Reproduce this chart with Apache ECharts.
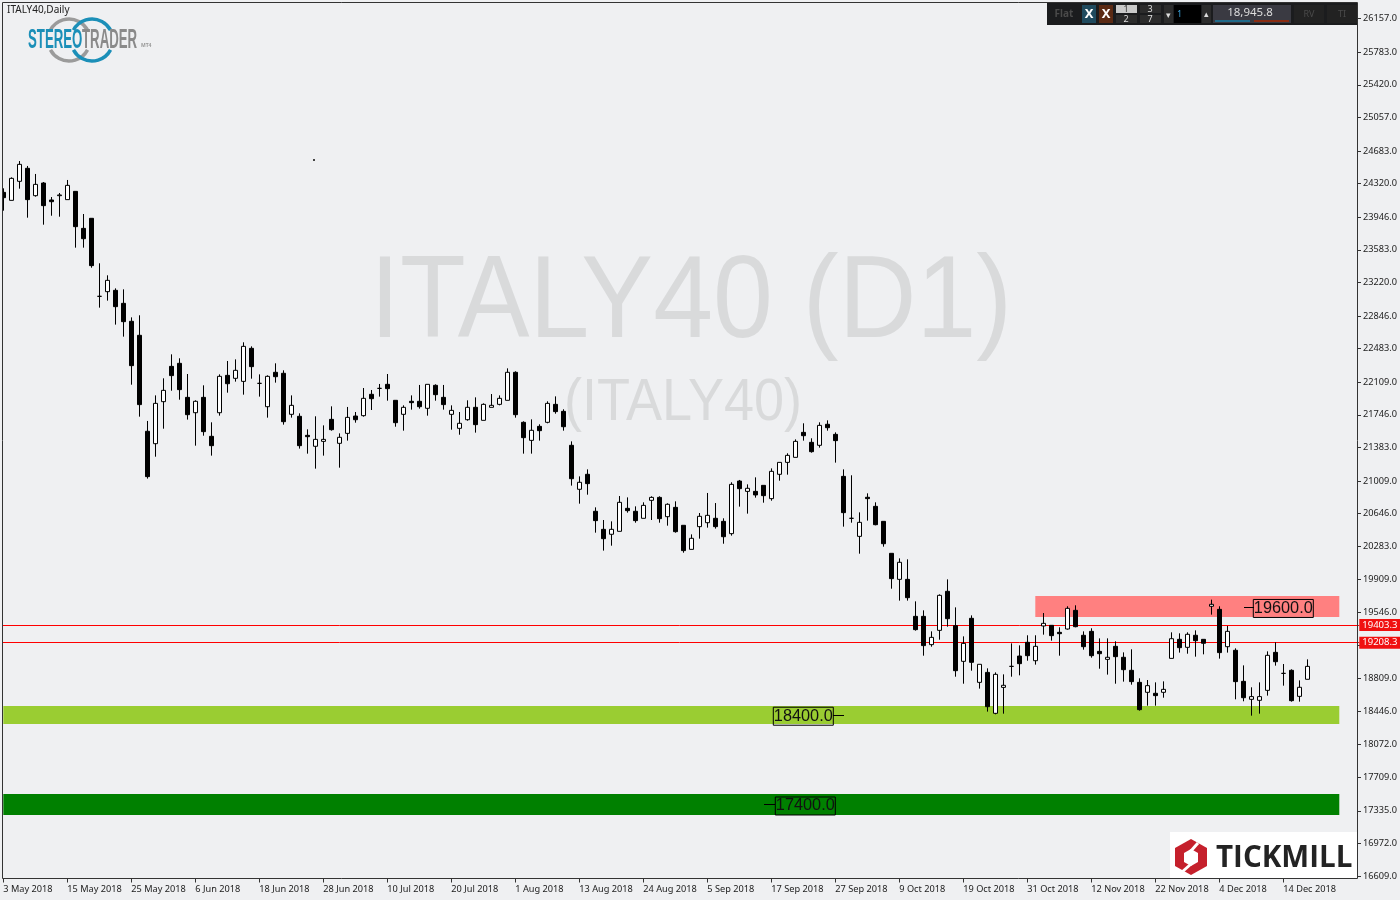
<!DOCTYPE html>
<html><head><meta charset="utf-8">
<style>html,body{margin:0;padding:0;background:#eff0f2}#c{width:1400px;height:900px}</style>
<script src="https://cdn.jsdelivr.net/npm/echarts@6/dist/echarts.min.js"></script>
</head><body><div id="c"></div>
<script>
// [open, close, low, high]
const candles = [
[24223,24164,24019,24268],[24134,24379,24134,24390],[24346,24535,24264,24572],[24491,24142,23941,24517],
[24186,24312,24175,24428],[24327,24075,23863,24338],[24138,24119,23963,24171],[24186,24194,23952,24216],
[24142,24301,24142,24361],[24234,23841,23607,24234],[23822,23707,23607,23982],[23934,23407,23384,23934],
[23065,23065,22939,23433],[23117,23243,23017,23299],[23132,22950,22750,23154],[22987,22783,22616,23143],
[22787,22293,22081,22831],[22631,21859,21725,22854],[21562,21057,21035,21677],[21424,21873,21279,21962],
[21892,22018,21591,22152],[22285,22182,22014,22419],[22319,22026,21914,22375],[21940,21747,21692,22200],
[21769,21896,21402,21907],[21940,21558,21513,22074],[21506,21402,21291,21662],[21769,22174,21736,22196],
[22185,22092,21992,22345],[22152,22241,22115,22363],[22118,22508,21970,22553],[22486,22282,22148,22508],
[22096,22096,21948,22196],[21836,22174,21714,22185],[22219,22170,22104,22319],[22208,21669,21636,22241],
[21751,21851,21714,21962],[21729,21402,21369,21762],[21517,21502,21313,21584],[21395,21472,21146,21729],
[21450,21472,21291,21628],[21695,21580,21569,21840],[21428,21495,21157,21539],[21539,21717,21458,21833],
[21732,21691,21658,21777],[21736,21929,21725,22044],[21974,21925,21799,22022],[22040,22040,21948,22089],
[22085,22037,21903,22200],[21907,21658,21613,21907],[21751,21829,21569,21851],[21896,21881,21803,21962],
[21896,21836,21814,22078],[21818,22085,21736,22085],[22074,21970,21903,22085],[21940,21859,21803,22078],
[21751,21795,21580,21851],[21595,21651,21524,21777],[21691,21829,21680,21907],[21829,21636,21547,21940],
[21684,21862,21684,21873],[21829,21851,21829,21977],[21862,21929,21851,21962],[21907,22219,21907,22263],
[22219,21747,21714,22230],[21662,21491,21313,21673],[21461,21573,21313,21695],[21617,21569,21458,21640],
[21662,21873,21651,21896],[21862,21781,21758,21951],[21784,21613,21569,21807],[21406,21034,20957,21450],
[20916,20994,20756,21060],[21083,20979,20856,21138],[20671,20567,20433,20715],[20470,20366,20233,20574],
[20415,20470,20288,20559],[20448,20771,20448,20841],[20704,20678,20656,20826],[20671,20567,20544,20726],
[20593,20737,20593,20771],[20793,20826,20574,20838],[20826,20589,20544,20838],[20611,20749,20511,20760],
[20715,20444,20433,20782],[20515,20233,20210,20515],[20247,20370,20247,20414],[20500,20615,20366,20652],
[20544,20626,20489,20875],[20593,20500,20478,20763],[20559,20388,20310,20593],[20422,20971,20400,20994],
[21008,20923,20723,21020],[20893,20927,20645,20971],[20893,20853,20823,21049],[20960,20845,20767,20960],
[20812,21116,20789,21149],[21083,21216,21012,21216],[21216,21294,21079,21317],[21272,21450,21272,21472],
[21550,21513,21458,21651],[21439,21335,21324,21484],[21406,21628,21380,21662],[21640,21602,21569,21684],
[21528,21458,21213,21550],[21060,20656,20500,21138],[20593,20593,20544,21072],[20392,20548,20199,20659],
[20827,20812,20567,20871],[20726,20522,20515,20771],[20559,20310,20277,20559],[20203,19921,19809,20203],
[19913,20103,19676,20147],[19913,19709,19676,20136],[19501,19353,19342,19668],[19501,19175,19063,19568],
[19186,19267,19163,19334],[19345,19735,19241,19746],[19780,19475,19386,19913],[19397,18896,18829,19601],
[19000,19200,18751,19278],[19479,18989,18896,19512],[18766,18967,18696,18967],[18877,18495,18440,18922],
[18421,18855,18410,18877],[18710,18733,18417,18855],[18944,18944,18829,19200],[19059,18974,18844,19178],
[19212,19063,19007,19290],[19007,19167,18963,19290],[19394,19423,19297,19538],[19401,19286,19230,19401],
[19323,19308,19063,19379],[19360,19590,19353,19613],[19568,19386,19379,19624],[19290,19163,19130,19334],
[19334,19063,19041,19368],[19111,19085,18918,19256],[19022,19045,18852,19256],[19167,19052,18751,19223],
[19045,18907,18774,19100],[18900,18774,18740,19134],[18766,18462,18451,18811],[18655,18729,18506,18792],
[18644,18618,18506,18766],[18655,18688,18595,18777],[19033,19252,19033,19323],[19245,19152,19097,19312],
[19156,19301,19085,19323],[19290,19230,19052,19345],[19245,19201,19078,19245],[19613,19635,19520,19687],
[19579,19097,19030,19613],[19163,19334,19097,19394],[19123,18774,18577,19145],[18777,18595,18555,18955],
[18577,18607,18395,18711],[18566,18607,18417,18766],[18677,19067,18618,19111],[19100,18996,18952,19212],
[18866,18866,18729,18970],[18900,18562,18551,18911],[18610,18711,18551,18788],[18800,18944,18800,19022]
];
const dateLabels = ['3 May 2018','15 May 2018','25 May 2018','6 Jun 2018','18 Jun 2018','28 Jun 2018','10 Jul 2018',
 '20 Jul 2018','1 Aug 2018','13 Aug 2018','24 Aug 2018','5 Sep 2018','17 Sep 2018','27 Sep 2018','9 Oct 2018',
 '19 Oct 2018','31 Oct 2018','12 Nov 2018','22 Nov 2018','4 Dec 2018','14 Dec 2018'];
const priceTicks = [26157,25783,25420,25057,24683,24320,23946,23583,23220,22846,22483,22109,21746,21383,21009,
 20646,20283,19909,19546,19183,18809,18446,18072,17709,17335,16972,16609];
const hLines = [19403.3,19208.3];
const zoneBands = [
 {from:129,to:167,hi:19728,lo:19494,color:'#ff8080'},
 {from:0,to:167,hi:18503,lo:18302,color:'#9acd32'},
 {from:0,to:167,hi:17522,lo:17289,color:'#008000'}];
const zoneTags = [{slot:100,value:18400,dx:0},{slot:160,value:19600,dx:0},{slot:100,value:17400,dx:2}];
const slotCount = 170;
const categories = Array.from({length:slotCount},(_,k)=>k%8===0&&dateLabels[k/8]?dateLabels[k/8]:'s'+k);
const showSlot = k=>k%8===0&&k<=160;

const BG='#eff0f2', WM='#d9dadb', FONT='"Noto Sans","Open Sans",sans-serif';
const txt=(x,y,t,o={})=>({type:'text',x,y,z:o.z||40,scaleX:o.sx||1,silent:true,style:{text:t,fill:o.c||'#222',
  font:(o.w||'normal')+' '+(o.s||10)+'px '+(o.f||FONT),textAlign:o.a||'left',textVerticalAlign:'middle'}});
const box=(x,y,w,h,c,z=40)=>({type:'rect',silent:true,z,shape:{x,y,width:w,height:h},style:{fill:c}});
const seg=(x1,y1,x2,y2,c='#000',lw=1,z=40)=>({type:'line',silent:true,z,shape:{x1,y1,x2,y2},style:{stroke:c,lineWidth:lw}});
const arc=(cx,cy,r,a,b,c)=>({type:'arc',silent:true,z:40,shape:{cx,cy,r,startAngle:a*Math.PI/180,endAngle:b*Math.PI/180,clockwise:true},style:{stroke:c,lineWidth:3.5,fill:null}});

const graphics=[
 // watermark behind the candles
 txt(370,305,'ITALY40 (D1)',{s:116,c:WM,f:'"Liberation Sans"',sx:0.928,z:0}),
 txt(564,403,'(ITALY40)',{s:60,c:WM,f:'"Liberation Sans"',sx:0.9,z:0}),
 // frame
 box(0,0,2,900,BG,30),
 {type:'rect',silent:true,z:31,shape:{x:2.5,y:2.5,width:1355,height:876},style:{fill:null,stroke:'#333',lineWidth:1}},
 txt(7,10,'ITALY40,Daily',{s:10}),
 box(313,159,2,2,'#444',5),
 // StereoTrader logo
 arc(69,40,21,208,332,'#9b9b9b'),arc(69,40,21,28,152,'#9b9b9b'),
 arc(92,40,21,208,332,'#1b8fb8'),arc(92,40,21,28,152,'#1b8fb8'),
 txt(28,41,'STEREO',{s:27,w:'bold',c:'#1b8fb8',f:'"Liberation Sans"',sx:0.49}),
 txt(82,41,'TRADER',{s:27,w:'bold',c:'#8a8a8a',f:'"Liberation Sans"',sx:0.49}),
 txt(141,46,'MT4',{s:5,w:'bold',c:'#999'}),
 // Tickmill logo
 box(1170,832,187,46,'#fff',32),
 {type:'polygon',silent:true,z:33,shape:{points:[[1191,839],[1207,848],[1207,866],[1191,875],[1175,866],[1175,848]]},style:{fill:'#c5202c'}},
 {type:'polygon',silent:true,z:34,shape:{points:[[1191,849],[1198,853],[1198,862],[1191,866],[1184,862],[1184,853]]},style:{fill:'#fff'}},
 seg(1198,843,1190,852,'#fff',3,35),seg(1191,864,1182,872,'#fff',3,35),
 txt(1216,858,'TICKMILL',{s:30,w:'bold',c:'#232323',f:'"Open Sans"',sx:0.985,z:36}),
 // toolbar
 box(1047,3,310,22,'#1b1c1e'),
 txt(1064,14,'Flat',{s:10,c:'#4a4a4a',a:'center',w:'bold'}),
 box(1082,5,14,18,'#1f4a5e'),txt(1089,14,'X',{s:13,c:'#fff',a:'center',w:'bold'}),
 box(1099,5,14,18,'#5b2a14'),txt(1106,14,'X',{s:13,c:'#fff',a:'center',w:'bold'}),
 box(1116,5,21,8,'#c9c9c9'),txt(1126,9,'1',{s:9,c:'#333',a:'center'}),
 box(1116,15,21,8,'#2c2c2c'),txt(1126,19,'2',{s:9,c:'#ddd',a:'center'}),
 box(1140,5,21,8,'#2c2c2c'),txt(1150,9,'3',{s:9,c:'#ddd',a:'center'}),
 box(1140,15,21,8,'#2c2c2c'),txt(1150,19,'7',{s:9,c:'#ddd',a:'center'}),
 box(1164,5,9,18,'#2c2c2c'),txt(1168,15,'▾',{s:9,c:'#ddd',a:'center'}),
 box(1174,5,27,18,'#000'),txt(1177,14,'1',{s:9,c:'#3aa0d8'}),
 box(1202,5,9,18,'#2c2c2c'),txt(1206,14,'▴',{s:9,c:'#ddd',a:'center'}),
 box(1213,5,78,18,'#3a3a42'),txt(1250,13,'18,945.8',{s:11.5,c:'#ddd',a:'center'}),
 box(1215,20,35,2,'#1f6a8a'),box(1254,20,35,2,'#8a2c12'),
 box(1294,5,30,18,'#222'),txt(1309,14,'RV',{s:9,c:'#4a4a4a',a:'center'}),
 box(1327,5,30,18,'#222'),txt(1342,14,'TI',{s:9,c:'#4a4a4a',a:'center'}),
 // tag stubs
 seg(833,715.5,844,715.5),seg(1244,607.5,1254,607.5),seg(764,804.5,775,804.5)
];

const chart=echarts.init(document.getElementById('c'),null,{renderer:'canvas'});
chart.setOption({
 animation:false,backgroundColor:BG,
 grid:{left:-0.7,top:2.5,width:1360,height:876,containLabel:false,outerBoundsMode:'none'},
 xAxis:{type:'category',data:categories,boundaryGap:true,
  axisLine:{show:false},
  axisTick:{show:true,alignWithLabel:true,length:4,interval:k=>showSlot(k),lineStyle:{color:'#333',width:1}},
  axisLabel:{show:true,interval:k=>showSlot(k),align:'left',margin:6,fontSize:9.2,color:'#222',fontFamily:FONT,hideOverlap:false},
  splitLine:{show:false}},
 yAxis:{type:'value',position:'right',offset:-2.3,min:16581.4,max:26337.5,scale:true,
  axisLine:{show:false},
  axisTick:{show:true,length:4,customValues:priceTicks,lineStyle:{color:'#333'}},
  axisLabel:{show:true,margin:6,customValues:priceTicks,fontSize:9.2,color:'#222',fontFamily:FONT,formatter:v=>v.toFixed(1)},
  splitLine:{show:false}},
 graphic:{elements:graphics},
 series:[{
  type:'candlestick',data:candles,barWidth:5,large:false,z:3,clip:true,
  itemStyle:{color:'#fff',color0:'#000',borderColor:'#000',borderColor0:'#000',borderColorDoji:'#000',borderWidth:1},
  markArea:{silent:true,z:1,animation:false,data:zoneBands.map(b=>[
    {xAxis:b.from,yAxis:b.hi,itemStyle:{color:b.color,opacity:1}},{xAxis:b.to,yAxis:b.lo}])},
  markLine:{silent:true,z:1,animation:false,symbol:['none','none'],
    lineStyle:{color:'#ff0000',width:1,type:'solid'},
    data:hLines.map(v=>({yAxis:v,
     label:{show:true,position:'end',distance:0,formatter:v.toFixed(1),color:'#fff',backgroundColor:'#f01010',fontSize:9.5,fontFamily:FONT,padding:[1,5,1,3],width:33,lineHeight:10}}))},
  markPoint:{silent:true,z:6,animation:false,symbol:'rect',symbolSize:0,
    data:zoneTags.map(t=>({coord:[t.slot,t.value],
     label:{show:true,position:'inside',offset:[t.dx,1],formatter:t.value.toFixed(1),color:'#111',fontSize:16.3,fontFamily:'"Liberation Sans"',
       borderColor:'#000',borderWidth:1,padding:[1,1,1,1],lineHeight:16,width:58,align:'center'}}))}
 }]
});
</script></body></html>
